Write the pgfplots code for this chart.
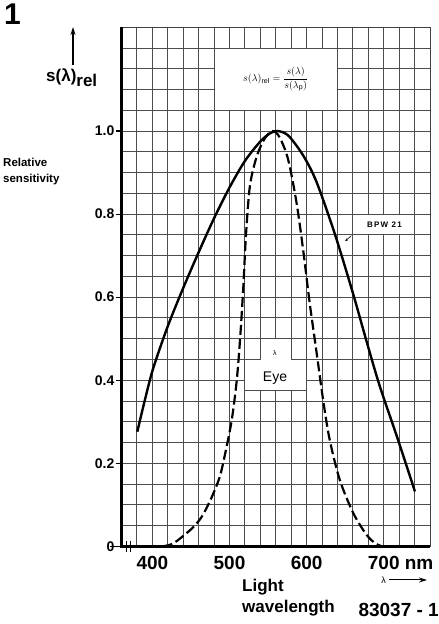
\documentclass[border=0pt]{standalone}
\usepackage{fontspec}
\setmainfont{Liberation Sans}
\usepackage{pgfplots}
\pgfplotsset{compat=1.18}
\usetikzlibrary{arrows.meta}
\pgfplotstableread{
x y
380.5 0.276
390 0.350
401 0.428
420 0.530
440 0.622
460 0.708
480 0.790
500 0.864
520 0.928
540 0.975
552 0.994
560 1.000
568 0.998
578 0.986
596 0.940
613 0.877
637 0.750
660 0.610
678 0.492
695 0.385
717 0.265
740.5 0.132
}\bpw
\pgfplotstableread{
x y
395 0.0
414 0.0
428 0.008
446.5 0.035
455 0.05
464 0.071
475 0.11
487 0.165
494.5 0.224
503 0.305
509.5 0.401
514 0.506
518 0.626
521.3 0.747
526.5 0.868
535.5 0.94
546 0.983
556 1.0
565 0.985
576 0.932
587 0.827
596 0.707
604 0.586
613 0.466
622 0.345
630 0.256
643 0.16
660.5 0.08
678 0.027
690 0.006
698 0.0
}\eye
\begin{document}
\begin{tikzpicture}[x=1pt,y=1pt]
\useasboundingbox (0,0) rectangle (439,624);
\tikzset{gridst/.style={black!70, line width=0.9pt}}
\begin{axis}[
  at={(121.5pt,77.7pt)}, anchor=south west,
  scale only axis, width=308.5pt, height=519pt,
  xmin=360, xmax=760, ymin=0, ymax=1.25,
  xtick={400,500,600,700},
  xticklabels={400,500,600,{700\rlap{ nm}}},
  ytick={0,0.2,0.4,0.6,0.8,1.0},
  yticklabels={0,0.2,0.4,0.6,0.8,1.0},
  minor xtick={360,380,...,760},
  minor ytick={0,0.05,0.1,0.15,0.2,0.25,0.3,0.35,0.4,0.45,0.5,0.55,0.6,0.65,0.7,0.75,0.8,0.85,0.9,0.95,1.0,1.05,1.1,1.15,1.2,1.25},
  grid=both,
  major grid style={gridst},
  minor grid style={gridst},
  tick align=outside,
  xtick pos=bottom, ytick pos=left,
  major tick length=6pt, minor tick length=0pt,
  xtick style={draw=none},
  ytick style={black, line width=1.2pt},
  axis line style={black!75, line width=1pt},
  xticklabel style={font=\fontsize{19}{19}\selectfont\bfseries},
  yticklabel style={font=\fontsize{14}{14}\selectfont\bfseries, inner sep=1pt},
  /pgf/number format/assume math mode=true,
  clip=false,
]
% label boxes
\fill[white] (axis cs:480,1.05) rectangle (axis cs:640,1.2);
\draw[gridst] (axis cs:480,1.05) rectangle (axis cs:640,1.2);
\node[font=\fontsize{10}{10}\selectfont] at (axis cs:560,1.125)
  {$s(\lambda)_{\mathrm{rel}} = \displaystyle\frac{s(\lambda)}{s(\lambda_{\mathrm{p}})}$};
\fill[white] (axis cs:660,0.75) rectangle (axis cs:740,0.8);
\draw[gridst] (axis cs:660,0.75) rectangle (axis cs:740,0.8);
\node[font=\fontsize{8}{8}\selectfont\bfseries\addfontfeatures{LetterSpace=15}] at (axis cs:701,0.775) {BPW 21};
\draw[line width=0.6pt, -{Stealth[length=3pt,width=2.5pt]}] (axis cs:658,0.748) -- (axis cs:650,0.735);
\fill[white] (axis cs:520,0.375) rectangle (axis cs:600,0.45);
\fill[white] (axis cs:540,0.44) rectangle (axis cs:580,0.5);
\draw[gridst] (axis cs:520,0.375) -- (axis cs:520,0.45) -- (axis cs:540,0.45) -- (axis cs:540,0.5) -- (axis cs:580,0.5) -- (axis cs:580,0.45) -- (axis cs:600,0.45) -- (axis cs:600,0.375) -- cycle;
\node[font=\fontsize{7}{7}\selectfont] at (axis cs:559,0.466) {λ};
\node[font=\fontsize{14}{14}\selectfont] at (axis cs:559,0.405) {Eye};
% curves
\addplot[black, line width=2.4pt, smooth] table[x=x,y=y] {\bpw};
\addplot[black, line width=2.2pt, smooth, dash pattern=on 10pt off 4pt] table[x=x,y=y] {\eye};
% thick axes and break
\draw[black, line width=2.6pt] (axis cs:360,1.25) -- (axis cs:360,0) -- (axis cs:760,0);
\draw[black, line width=1.4pt] (axis cs:345,0) -- (axis cs:360,0);
\draw[black, line width=1.4pt] (axis cs:366.5,-0.013) -- (axis cs:366.5,0.013);
\draw[black, line width=1.4pt] (axis cs:372,-0.013) -- (axis cs:372,0.013);
\end{axis}
\node[font=\fontsize{30}{30}\selectfont\bfseries] at (12.5,610) {1};
\draw[black, line width=1.2pt, -{Stealth[length=8pt,width=5pt]}] (73,559) -- (73,597);
\node[anchor=base west, inner sep=0pt, font=\fontsize{17}{17}\selectfont\bfseries] at (46,542) {s(λ)\raisebox{-5pt}{rel}};
\node[anchor=base west, inner sep=0pt, font=\fontsize{11.5}{11.5}\selectfont\bfseries] at (3,457) {Relative};
\node[anchor=base west, inner sep=0pt, font=\fontsize{11.5}{11.5}\selectfont\bfseries] at (3,441) {sensitivity};
\node[anchor=base west, inner sep=0pt, font=\fontsize{17}{17}\selectfont\bfseries] at (242,32) {Light};
\node[anchor=base west, inner sep=0pt, font=\fontsize{17}{17}\selectfont\bfseries] at (242,11.5) {wavelength};
\node[anchor=base east, inner sep=0pt, font=\fontsize{19}{19}\selectfont\bfseries] at (439,7.3) {83037 - 1};
\node[font=\fontsize{9}{9}\selectfont] at (383.5,44) {λ};
\draw[black, line width=1pt, -{Stealth[length=8pt,width=5pt]}] (389,44) -- (427,44);
\end{tikzpicture}
\end{document}
